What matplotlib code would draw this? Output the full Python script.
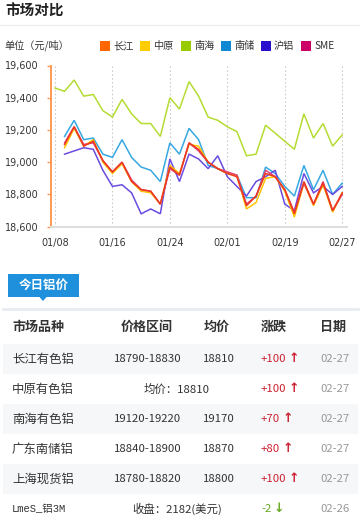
import matplotlib
matplotlib.use('Agg')
import matplotlib.pyplot as plt
from matplotlib.patches import Rectangle, Polygon
from matplotlib.lines import Line2D

plt.rcParams['font.family'] = ['Noto Sans CJK SC', 'DejaVu Sans']

W, H = 360, 522

# ---- chart data (元/吨), 31 trading days 01/08 .. 02/27
xlabels = ['01/08', '01/16', '01/24', '02/01', '02/19', '02/27']
names = ['长江', '中原', '南海', '南储', '沪铝', 'SME']
legend_colors = ['#ff6600', '#ffcc00', '#99cc00', '#0e88d0', '#2a10cc', '#cc0066']
line_colors = ['#ee3a1c', '#ffc400', '#b4dc32', '#36a8e2', '#6a4ce0', '#e0407c']

changjiang = [None, 19110, 19220, 19100, 19130, 19010, 18940, 19000, 18880, 18830, 18820,
              18740, 18970, 18920, 19120, 19080, 19000, 18960, 18930, 18910, 18730,
              18790, 18930, 18910, 18830, 18680, 18880, 18740, 18870, 18700, 18810]
zhongyuan = [None, 19090, 19210, 19100, 19140, 19000, 18930, 18990, 18880, 18820, 18810,
             18740, 18980, 18930, 19110, 19100, 19000, 18960, 18930, 18920, 18710,
             18750, 18900, 18910, 18820, 18660, 18870, 18730, 18860, 18690, 18810]
nanhai = [19460, 19440, 19510, 19410, 19420, 19320, 19280, 19390, 19300, 19240, 19240,
          19160, 19400, 19330, 19500, 19410, 19280, 19260, 19220, 19190, 19040,
          19050, 19230, 19180, 19130, 19080, 19300, 19150, 19240, 19100, 19170]
nanchu = [None, 19160, 19260, 19140, 19150, 19050, 19030, 19140, 19030, 18970, 18950,
          18880, 19120, 19050, 19210, 19140, 18980, 18960, 18930, 18920, 18780,
          18780, 18970, 18930, 18850, 18790, 18980, 18830, 18950, 18800, 18870]
hulv = [None, 19050, 19070, 19090, 19080, 18950, 18850, 18860, 18810, 18680, 18710,
        18680, 19020, 18880, 19050, 19020, 18960, 19040, 18910, 18850, 18790,
        18880, 18910, 18950, 18740, 18700, 18930, 18810, 18850, 18800, 18850]
sme = [None, 19120, 19220, 19110, 19120, 19010, 18940, 19000, 18890, 18830, 18820,
       18740, 18960, 18920, 19120, 19070, 19000, 18960, 18940, 18920, 18740,
       18790, 18950, 18910, 18830, 18690, 18870, 18740, 18880, 18700, 18800]
series = [changjiang, zhongyuan, nanhai, nanchu, hulv, sme]
draw_order = [2, 3, 4, 1, 5, 0]
yticks = [18600, 18800, 19000, 19200, 19400, 19600]

# ---- table data
t_header = ['市场品种', '价格区间', '均价', '涨跌', '日期']
t_market = ['长江有色铝', '中原有色铝', '南海有色铝', '广东南储铝', '上海现货铝', 'LmeS_铝3M']
t_range = ['18790-18830', None, '19120-19220', '18840-18900', '18780-18820', None]
t_avg = ['18810', None, '19170', '18870', '18800', None]
t_merged = [None, '均价：18810', None, None, None, '收盘：2182(美元)']
t_change = ['+100', '+100', '+70', '+80', '+100', '-2']
t_date = ['02-27', '02-27', '02-27', '02-27', '02-27', '02-26']


def fx(x):
    return x / W


def fy(y):
    return 1 - y / H


fig = plt.figure(figsize=(W / 100, H / 100), dpi=100)
fig.patch.set_facecolor('white')

# header
fig.text(fx(5), fy(11), '市场对比', fontsize=10.5, fontweight='bold', color='#222222',
         ha='left', va='center')
fig.add_artist(Line2D([0, 1], [fy(25), fy(25)], color='#eeeeee', lw=1))
fig.text(fx(4), fy(45), '单位（元/吨）', fontsize=7.3, color='#333333', ha='left', va='center')

lx = [100, 140, 181, 221, 261, 301]
for x, n, c in zip(lx, names, legend_colors):
    fig.add_artist(Rectangle((fx(x), fy(51)), fx(10), 10 / H, color=c, lw=0))
    fig.text(fx(x + 13), fy(46), n, fontsize=7.3, color='#333333', ha='left', va='center')

# chart
ax = fig.add_axes([fx(50.7), fy(226.7), fx(347 - 50.7), (226.7 - 65.5) / H])
xs = list(range(len(nanhai)))
for k in draw_order:
    pts = [(i, v) for i, v in zip(xs, series[k]) if v is not None]
    ax.plot([p[0] for p in pts], [p[1] for p in pts], color=line_colors[k], lw=1.1,
            solid_joinstyle='miter', zorder=3)

ax.set_xlim(-0.45, 30.5)
ax.set_ylim(18600, 19600)
ax.set_xticks([0, 6, 12, 18, 24, 30])
ax.set_xticklabels(xlabels)
ax.set_yticks(yticks)
ax.set_yticklabels(['{:,}'.format(v) for v in yticks])
ax.tick_params(axis='x', length=0, pad=8, labelsize=6.9, labelcolor='#333333')
ax.tick_params(axis='y', length=3, width=1, color='#ff9955', pad=6, labelsize=6.9,
               labelcolor='#333333')
for lab in ax.get_xticklabels() + ax.get_yticklabels():
    lab.set_family('DejaVu Sans')
ax.grid(axis='x', color='#cccccc', ls=(0, (1.5, 2)), lw=0.8)
for s in ['top', 'right']:
    ax.spines[s].set_visible(False)
ax.spines['left'].set_color('#ff9955')
ax.spines['left'].set_linewidth(1.4)
ax.spines['bottom'].set_color('#dddddd')
ax.spines['bottom'].set_linewidth(1.4)

# tab
fig.add_artist(Rectangle((fx(8), fy(297)), fx(71), 23 / H, color='#1e90dc', lw=0))
fig.add_artist(Polygon([[fx(39), fy(296.5)], [fx(47), fy(296.5)], [fx(43), fy(301)]],
                       closed=True, color='#1e90dc', lw=0))
fig.text(fx(43.5), fy(285.5), '今日铝价', fontsize=9, fontweight='bold', color='white',
         ha='center', va='center')
fig.add_artist(Line2D([fx(3), fx(358)], [fy(309), fy(309)], color='#e8edf3', lw=2))

# table
hx = [12, 147, 217, 261, 333]
has = ['left', 'center', 'center', 'left', 'center']
for x, t, a in zip(hx, t_header, has):
    fig.text(fx(x), fy(327), t, fontsize=9.4, fontweight='bold', color='#333333',
             ha=a, va='center')

row_y = [359, 389, 419, 449, 479, 509]
for i, y in enumerate(row_y):
    if i % 2 == 0:
        fig.add_artist(Rectangle((fx(3), fy(y + 15)), fx(355), 30 / H, color='#f6f7f9',
                                 lw=0, zorder=0))
    if i == 5:
        fig.text(fx(12), fy(y), t_market[i], fontsize=7.6, color='#333333', ha='left',
                 va='center', family=['Liberation Mono', 'Noto Sans CJK SC'])
    else:
        fig.text(fx(12), fy(y), t_market[i], fontsize=8.9, color='#333333', ha='left',
                 va='center')
    if t_merged[i] is not None:
        fig.text(fx(177), fy(y), t_merged[i], fontsize=8.2, color='#333333', ha='center',
                 va='center')
    else:
        fig.text(fx(147.5), fy(y), t_range[i], fontsize=8.2, color='#333333', ha='center',
                 va='center')
        fig.text(fx(219), fy(y), t_avg[i], fontsize=8.2, color='#333333', ha='center',
                 va='center')
    up = not t_change[i].startswith('-')
    col = '#cc2233' if up else '#66aa22'
    t = fig.text(fx(261), fy(y), t_change[i], fontsize=8.2, color=col, ha='left',
                 va='center')
    fig.canvas.draw()
    bb = t.get_window_extent()
    fig.text((bb.x1 + 2) / W, fy(y), '↑' if up else '↓', fontsize=9, fontweight='bold',
             color=col, ha='left', va='center', family='DejaVu Sans')
    fig.text(fx(335), fy(y), t_date[i], fontsize=8.2, color='#999999', ha='center',
             va='center')

fig.savefig('out.png', dpi=100, facecolor='white')
